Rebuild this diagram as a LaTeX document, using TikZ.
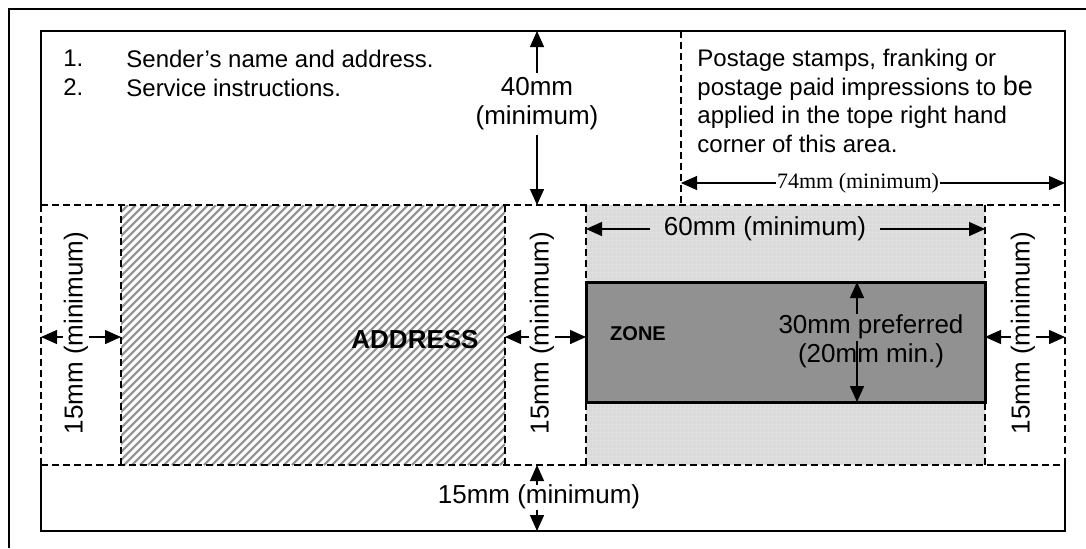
\documentclass[tikz,border=0pt]{standalone}
\usepackage{fontspec}
\setmainfont{Liberation Sans}
\newfontfamily\timesfont{Liberation Serif}
\definecolor{hatchgrey}{RGB}{150, 150, 150}
\definecolor{stampgrey}{RGB}{218, 218, 218}
\definecolor{zonegrey}{RGB}{145, 145, 145}
\usepackage{tikz}
\usetikzlibrary{arrows.meta, positioning}

\tikzset{
  frameline/.style={line width=1pt},
  arealine/.style={line width=0.9pt, dash pattern=on 3.5pt off 2pt},
  dimarrow/.style={line width=0.7pt, -{Triangle[length=8pt, width=7pt]}},
  dimlabel/.style={font=\fontsize{13}{14.5}\selectfont, inner sep=0pt, align=center},
  notetext/.style={font=\fontsize{12}{14.3}\selectfont, inner sep=0pt, anchor=north west, align=left},
}

\begin{document}
\begin{tikzpicture}[x=0.5pt, y=-0.5pt]
  \useasboundingbox (0,0) rectangle (1086,548);

  % Stamp column and hatched address block
  \fill[stampgrey] (586,205) rectangle (985,465);
  \draw[white!88!black, line width=0.2pt, step=2pt] (586,205) grid (985,465);
  \begin{scope}
    \clip (121,205) rectangle (505,465);
    \foreach \i in {0,8,...,660} {
      \draw[hatchgrey, line width=1.1pt] (\i-140,465) -- ++(260,-260);
    }
  \end{scope}

  % Zone
  \fill[zonegrey] (586,282) rectangle (985,402);
  \draw[line width=1.5pt] (586,282) rectangle (985,402);

  % Outer and inner frames
  \draw[frameline] (9,548) -- (9,9) -- (1086,9);
  \draw[frameline] (41,205) -- (41,31) -- (1065,31) -- (1065,205);
  \draw[frameline] (41,465) -- (41,531) -- (1065,531) -- (1065,465);

  % Dashed area limits
  \draw[arealine] (41,205) -- (1065,205);
  \draw[arealine] (41,465) -- (1065,465);
  \draw[arealine] (681,31) -- (681,205);
  \foreach \x in {41,121,505,586,985,1065} {
    \draw[arealine] (\x,205) -- (\x,465);
  }

  % Texts of the top area
  \node[notetext] (nums) at (63,50) {1.\\2.};
  \node[notetext] (sender) at (126,50) {Sender’s name and address.\\Service instructions.};
  \node[notetext] (stamps) at (697,49) {Postage stamps, franking or\\postage paid impressions to {\fontsize{13.5}{14.3}\selectfont be}\\applied in the tope right hand\\corner of this area.};

  % 40mm
  \node[dimlabel, inner sep=2pt] (h40) at (537,104) {40mm\\(minimum)};
  \coordinate (inntop) at (537,31);
  \coordinate (addrtop) at (537,205);
  \draw[dimarrow] (h40.north) -- (inntop);
  \draw[dimarrow] (h40.south) -- (addrtop);

  % 74mm
  \node[font=\timesfont\fontsize{11}{13}\selectfont, inner sep=0.5pt] (w74) at (858,183) {74mm (minimum)};
  \coordinate (stampl) at (681,183);
  \coordinate (stampr) at (1065,183);
  \draw[dimarrow, line width=0.6pt] (w74.west) -- (stampl);
  \draw[dimarrow, line width=0.6pt] (w74.east) -- (stampr);

  % 60mm
  \node[dimlabel, inner sep=6.5pt] (w60) at (765,229) {60mm (minimum)};
  \coordinate (greyl) at (586,229);
  \coordinate (greyr) at (985,229);
  \draw[dimarrow] (w60.west) -- (greyl);
  \draw[dimarrow] (w60.east) -- (greyr);

  % Block labels
  \node[font=\bfseries\fontsize{13}{15}\selectfont] (addr) at (415,340) {ADDRESS};
  \node[font=\bfseries\fontsize{10}{12}\selectfont] (zone) at (638,334) {ZONE};

  % 30mm
  \node[dimlabel] (h30) at (871,341) {30mm preferred\\(20mm min.)};
  \coordinate (zonetop) at (857,282);
  \coordinate (zonebot) at (857,402);
  \draw[dimarrow] (h30.north -| zonetop) -- (zonetop);
  \draw[dimarrow] (h30.center -| zonetop) -- (zonebot);

  % 15mm margins
  \node[dimlabel, rotate=90] (lm) at (76,333) {15mm (minimum)};
  \node[dimlabel, rotate=90] (mm) at (542,333) {15mm (minimum)};
  \node[dimlabel, rotate=90] (rm) at (1023,333) {15mm (minimum)};
  \coordinate (lmL) at (41,337);
  \coordinate (lmR) at (121,337);
  \coordinate (mmL) at (505,337);
  \coordinate (mmR) at (586,337);
  \coordinate (rmL) at (985,337);
  \coordinate (rmR) at (1065,337);
  \draw[dimarrow] (lm.north |- lmL) -- (lmL);
  \draw[dimarrow] (lm.south |- lmR) -- (lmR);
  \draw[dimarrow] (mm.north |- mmL) -- (mmL);
  \draw[dimarrow] (mm.south |- mmR) -- (mmR);
  \draw[dimarrow] (rm.north |- rmL) -- (rmL);
  \draw[dimarrow] (rm.south |- rmR) -- (rmR);

  % 15mm bottom
  \node[dimlabel] (b15) at (539,497) {15mm (minimum)};
  \coordinate (botL) at (537,465);
  \coordinate (botR) at (537,531);
  \draw[dimarrow] (b15.north -| botL) -- (botL);
  \draw[dimarrow] (b15.south -| botR) -- (botR);
\end{tikzpicture}
\end{document}
